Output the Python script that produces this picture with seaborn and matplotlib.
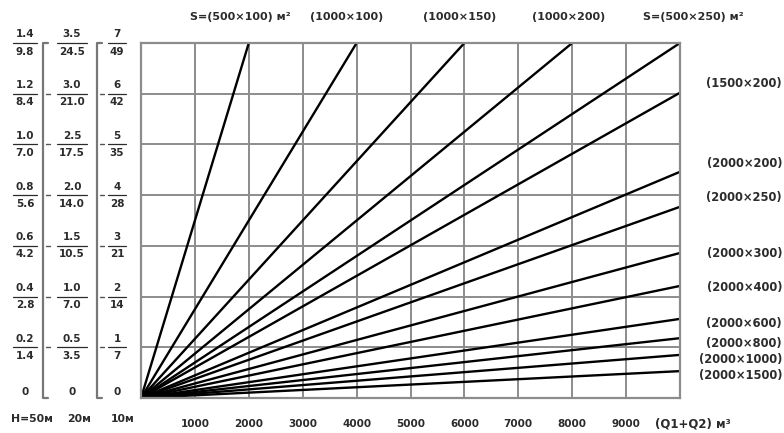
import numpy as np
import pandas as pd
import matplotlib
matplotlib.use("Agg")
import matplotlib.pyplot as plt
from matplotlib.transforms import blended_transform_factory
import seaborn as sns

# ---------------- data ----------------
q_max = 10000
h_max = 7
top_labels = ["S=(500×100) м²", "(1000×100)", "(1000×150)", "(1000×200)", "S=(500×250) м²"]
top_end_q = [2000, 4000, 6000, 8000, 10000]
right_labels = ["(1500×200)", "(2000×200)", "(2000×250)", "(2000×300)", "(2000×400)",
                "(2000×600)", "(2000×800)", "(2000×1000)", "(2000×1500)"]
right_end_h = [6.02, 4.46, 3.77, 2.86, 2.21, 1.56, 1.18, 0.85, 0.53]
x_tick_values = [1000, 2000, 3000, 4000, 5000, 6000, 7000, 8000, 9000]
x_tick_labels = ["1000", "2000", "3000", "4000", "5000", "6000", "7000", "8000", "9000"]
x_axis_label = "(Q1+Q2) м³"
h50_num = ["0.2", "0.4", "0.6", "0.8", "1.0", "1.2", "1.4"]
h50_den = ["1.4", "2.8", "4.2", "5.6", "7.0", "8.4", "9.8"]
h20_num = ["0.5", "1.0", "1.5", "2.0", "2.5", "3.0", "3.5"]
h20_den = ["3.5", "7.0", "10.5", "14.0", "17.5", "21.0", "24.5"]
h10_num = ["1", "2", "3", "4", "5", "6", "7"]
h10_den = ["7", "14", "21", "28", "35", "42", "49"]
column_titles = ["H=50м", "20м", "10м"]

# ---------------- build table ----------------
rows = []
for name, qe in zip(top_labels, top_end_q):
    rows.append({"series": name, "q": 0, "h": 0})
    rows.append({"series": name, "q": qe, "h": h_max})
for name, he in zip(right_labels, right_end_h):
    rows.append({"series": name, "q": 0, "h": 0})
    rows.append({"series": name, "q": q_max, "h": he})
df = pd.DataFrame(rows)

# ---------------- layout ----------------
W, H = 784, 433
sns.set_theme(style="white")
plt.rcParams["font.family"] = ["DejaVu Sans"]
fig = plt.figure(figsize=(W / 100, H / 100), dpi=100)
ax_left, ax_right, ax_top, ax_bot = 141, 680, 43, 398
ax = fig.add_axes([ax_left / W, 1 - ax_bot / H, (ax_right - ax_left) / W, (ax_bot - ax_top) / H])

TXT = "#2b2b2b"
GRID = "#8c8c8c"

sns.lineplot(data=df, x="q", y="h", units="series", estimator=None, sort=False,
             color="black", lw=1.7, ax=ax, legend=False)

ax.set_xticks(x_tick_values)
ax.set_xticklabels(x_tick_labels, fontsize=7.5, fontweight="bold", color=TXT)
ax.set_yticks(range(1, h_max))
ax.set_yticklabels([])
ax.tick_params(axis="x", length=0, pad=15)
ax.tick_params(axis="y", length=0)
ax.grid(True, color=GRID, lw=1.4)
for s in ax.spines.values():
    s.set_color(GRID)
    s.set_linewidth(1.6)
ax.set_xlabel("")
ax.set_ylabel("")

trans = blended_transform_factory(fig.transFigure, ax.transData)

# left scales
col_x = [25, 72, 117]
col_half = [12, 15, 9]
cols = [(h50_num, h50_den), (h20_num, h20_den), (h10_num, h10_den)]
for cx, hw, (nums, dens) in zip(col_x, col_half, cols):
    for k, (n, d) in enumerate(zip(nums, dens), start=1):
        ax.text(cx / W, k + 0.17, n, transform=trans, ha="center", va="center",
                fontsize=7.5, fontweight="bold", color=TXT, clip_on=False)
        ax.text(cx / W, k - 0.17, d, transform=trans, ha="center", va="center",
                fontsize=7.5, fontweight="bold", color=TXT, clip_on=False)
        ax.plot([(cx - hw) / W, (cx + hw) / W], [k, k], transform=trans,
                color=TXT, lw=0.9, clip_on=False)
    ax.text(cx / W, 0.12, "0", transform=trans, ha="center", va="center",
            fontsize=7.5, fontweight="bold", color=TXT, clip_on=False)

bracket_x = [43, 97]
for bx in bracket_x:
    ax.plot([(bx + 5) / W, bx / W, bx / W, (bx + 5) / W], [h_max, h_max, 0, 0],
            transform=trans, color="#777777", lw=1.6, clip_on=False)
    for k in range(1, h_max):
        ax.plot([(bx + 3) / W, (bx + 7) / W], [k, k], transform=trans,
                color="#555555", lw=1.0, clip_on=False)

title_x = [32, 79, 123]
for tx, t in zip(title_x, column_titles):
    fig.text(tx / W, 1 - 419 / H, t, ha="center", va="center",
             fontsize=7.8, fontweight="bold", color=TXT)

# top labels
top_label_x = [240, 347, 460, 569, 693]
for tx, t in zip(top_label_x, top_labels):
    fig.text(tx / W, 1 - 17 / H, t, ha="center", va="center",
             fontsize=8, fontweight="bold", color=TXT)

# right labels
right_label_y = [83, 163, 198, 253, 288, 324, 343, 359, 376]
for ty, t in zip(right_label_y, right_labels):
    fig.text(782 / W, 1 - ty / H, t, ha="right", va="center",
             fontsize=8.3, fontweight="bold", color=TXT)

fig.text(693 / W, 1 - 424 / H, x_axis_label, ha="center", va="center",
         fontsize=8.5, fontweight="bold", color=TXT)

ax.set_xlim(0, q_max)
ax.set_ylim(0, h_max)

fig.savefig("out.png", dpi=100, facecolor="white")
